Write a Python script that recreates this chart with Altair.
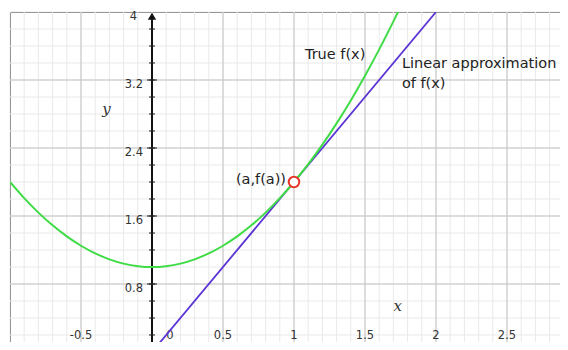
import altair as alt
import pandas as pd

# ---- data ----
curve_x = [-1.0, -0.9, -0.8, -0.7, -0.6, -0.5, -0.4, -0.3, -0.2, -0.1, 0.0, 0.1, 0.2, 0.3,
           0.4, 0.5, 0.6, 0.7, 0.8, 0.9, 1.0, 1.1, 1.2, 1.3, 1.4, 1.5, 1.6, 1.7, 1.75]
curve_y = [2.0, 1.81, 1.64, 1.49, 1.36, 1.25, 1.16, 1.09, 1.04, 1.01, 1.0, 1.01, 1.04, 1.09,
           1.16, 1.25, 1.36, 1.49, 1.64, 1.81, 2.0, 2.21, 2.44, 2.69, 2.96, 3.25, 3.56, 3.89, 4.06]
line_x = [0.0, 2.0]
line_y = [0.0, 4.0]
point_x = [1.0]
point_y = [2.0]

x_tick_values = [-0.5, 0.5, 1.0, 1.5, 2.0, 2.5]
x_tick_labels = ["-0.5", "0.5", "1", "1.5", "2", "2.5"]
y_tick_values = [0.8, 1.6, 2.4, 3.2]
y_tick_labels = ["0.8", "1.6", "2.4", "3.2"]

grid_x_minor = [round(-1.0 + 0.1 * i, 1) for i in range(40)]
grid_x_major = [-0.5, 0.0, 0.5, 1.0, 1.5, 2.0, 2.5]
grid_y_minor = [round(0.2 * i, 1) for i in range(21)]
grid_y_major = [0.8, 1.6, 2.4, 3.2]
y_axis_ticks_minor = [round(0.2 * i, 1) for i in range(1, 20)]
x_axis_ticks = [-0.5, 0.5, 1.0, 1.5, 2.0, 2.5]

ann_text = ["True f(x)", "Linear approximation", "of f(x)"]
ann_x = [1.077, 1.76, 1.76]
ann_y = [3.49, 3.39, 3.155]

# plot area: 550 x 330 px, 142 px per x unit, 85 px per y unit
XS = alt.Scale(domain=[-1, -1 + 550 / 142], nice=False, zero=False)
YS = alt.Scale(domain=[4 - 330 / 85, 4], nice=False, zero=False)

def X(field="x"):
    return alt.X(f"{field}:Q", scale=XS, axis=None)

def Y(field="y"):
    return alt.Y(f"{field}:Q", scale=YS, axis=None)

TXT = "#222222"
LAB = "#333333"

gxm = alt.Chart(pd.DataFrame({"x": grid_x_minor})).mark_rule(color="#e9e9e9", strokeWidth=1).encode(x=X())
gym = alt.Chart(pd.DataFrame({"y": grid_y_minor})).mark_rule(color="#e9e9e9", strokeWidth=1).encode(y=Y())
gxM = alt.Chart(pd.DataFrame({"x": grid_x_major})).mark_rule(color="#c4c4c4", strokeWidth=1).encode(x=X())
gyM = alt.Chart(pd.DataFrame({"y": grid_y_major})).mark_rule(color="#c4c4c4", strokeWidth=1).encode(y=Y())

# y axis (at x = 0) with arrow
yaxis = alt.Chart(pd.DataFrame({"x": [0.0], "y": [0.0], "y2": [3.92]})).mark_rule(
    color="#111111", strokeWidth=2).encode(x=X(), y=Y(), y2="y2:Q")
arrow = alt.Chart(pd.DataFrame({"x": [0.0], "y": [3.95]})).mark_point(
    shape="triangle-up", filled=True, color="#111111", size=70, opacity=1).encode(x=X(), y=Y())
yticks_minor = alt.Chart(pd.DataFrame({"y": y_axis_ticks_minor})).mark_tick(
    orient="horizontal", size=6, thickness=1.5, color="#222222"
).encode(x=alt.X("x0:Q", scale=XS, axis=None), y=Y()).transform_calculate(x0="0")
yticks_major = alt.Chart(pd.DataFrame({"y": y_tick_values})).mark_tick(
    orient="horizontal", size=10, thickness=1.5, color="#222222"
).encode(x=alt.X("x0:Q", scale=XS, axis=None), y=Y()).transform_calculate(x0="0")

# tick labels
ylab = alt.Chart(pd.DataFrame({"y": y_tick_values, "t": y_tick_labels})).mark_text(
    align="right", baseline="middle", dx=-9, dy=4.5, font="DejaVu Sans", fontSize=11.5, color=LAB
).encode(x=alt.X("x0:Q", scale=XS, axis=None), y=Y(), text="t:N").transform_calculate(x0="0")
ylab4 = alt.Chart(pd.DataFrame({"y": [4.0], "t": ["4"]})).mark_text(
    align="right", baseline="middle", dx=-15, dy=4.5, font="DejaVu Sans", fontSize=11.5, color=LAB
).encode(x=alt.X("x0:Q", scale=XS, axis=None), y=Y(), text="t:N").transform_calculate(x0="0")
xlab = alt.Chart(pd.DataFrame({"x": x_tick_values, "t": x_tick_labels})).mark_text(
    align="center", baseline="middle", dy=-16, font="DejaVu Sans", fontSize=11.5, color=LAB
).encode(x=X(), y=alt.Y("y0:Q", scale=YS, axis=None), text="t:N").transform_calculate(y0="0")
xlab0 = alt.Chart(pd.DataFrame({"x": [0.0], "t": ["0"]})).mark_text(
    align="center", baseline="middle", dx=18, dy=-16, font="DejaVu Sans", fontSize=11.5, color=LAB
).encode(x=X(), y=alt.Y("y0:Q", scale=YS, axis=None), text="t:N").transform_calculate(y0="0")

# axis names
ytitle = alt.Chart(pd.DataFrame({"x": [-0.32], "y": [2.86], "t": ["y"]})).mark_text(
    font="DejaVu Serif", fontStyle="italic", fontSize=15, color=LAB, baseline="middle"
).encode(x=X(), y=Y(), text="t:N")
xtitle = alt.Chart(pd.DataFrame({"x": [1.73], "y": [0.54], "t": ["x"]})).mark_text(
    font="DejaVu Serif", fontStyle="italic", fontSize=15, color=LAB, baseline="middle"
).encode(x=X(), y=Y(), text="t:N")

# curves
lin = alt.Chart(pd.DataFrame({"x": line_x, "y": line_y})).mark_line(
    color="#5b34d4", strokeWidth=1.8, clip=True).encode(x=X(), y=Y())
curve = alt.Chart(pd.DataFrame({"x": curve_x, "y": curve_y})).mark_line(
    color="#3fdc45", strokeWidth=2, clip=True, interpolate="monotone").encode(x=X(), y=Y())
pt = alt.Chart(pd.DataFrame({"x": point_x, "y": point_y})).mark_point(
    shape="circle", filled=False, fill="white", fillOpacity=1, stroke="#e8352a", strokeWidth=2,
    size=110, opacity=1).encode(x=X(), y=Y())

# annotations
ann = alt.Chart(pd.DataFrame({"x": ann_x, "y": ann_y, "t": ann_text})).mark_text(
    align="left", baseline="middle", font="DejaVu Sans", fontSize=14.5, color=TXT
).encode(x=X(), y=Y(), text="t:N")
ptlab = alt.Chart(pd.DataFrame({"x": point_x, "y": point_y, "t": ["(a,f(a))"]})).mark_text(
    align="right", baseline="middle", dx=-8, dy=-2, font="DejaVu Sans", fontSize=14.5, color=TXT
).encode(x=X(), y=Y(), text="t:N")

chart = alt.layer(
    gxm, gym, gxM, gyM, yaxis, arrow, yticks_minor, yticks_major,
    ylab, ylab4, xlab, xlab0, ytitle, xtitle, lin, curve, pt, ann, ptlab
).properties(
    width=550, height=330,
    autosize=alt.AutoSizeParams(type="none"),
    padding={"left": 2, "top": 4, "right": 0, "bottom": 0},
    background="white",
).configure_view(stroke="#444444", strokeWidth=1)

chart.save("out.html", embed_options={"renderer": "svg", "actions": False})
